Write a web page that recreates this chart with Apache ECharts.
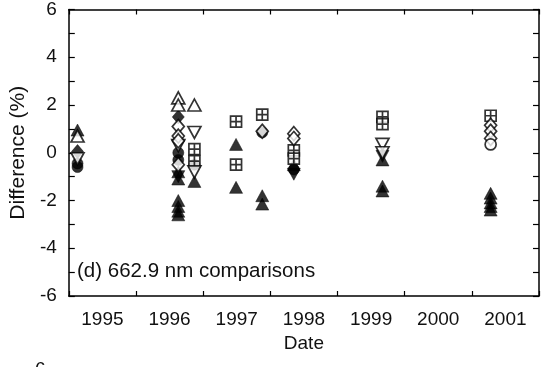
<!DOCTYPE html>
<html>
<head>
<meta charset="utf-8">
<script src="https://cdn.jsdelivr.net/npm/echarts@6/dist/echarts.min.js"></script>
<style>
  html, body { margin: 0; padding: 0; background: #fff; }
  #chart { width: 547px; height: 367px; }
</style>
</head>
<body>
<div id="chart"></div>
<script>
// data: [date (decimal year), difference %]
const yearLabels = ['1995', '1996', '1997', '1998', '1999', '2000', '2001']
const openUp = [[1995.13, 0.7], [1996.63, 2.3], [1996.63, 2.0], [1996.87, 2.0]]
const filledUp = [
  [1995.13, 0.95], [1996.63, -0.8], [1996.63, -1.1], [1996.63, -2.0], [1996.63, -2.25],
  [1996.63, -2.45], [1996.63, -2.6], [1996.87, -1.2], [1997.49, 0.35], [1997.49, -1.45],
  [1997.88, -1.8], [1997.88, -2.15], [1998.35, -0.5], [1999.67, -0.3], [1999.67, -1.4],
  [1999.67, -1.6], [2001.28, -1.7], [2001.28, -1.9], [2001.28, -2.1], [2001.28, -2.25], [2001.28, -2.4]
]
const openDown = [[1995.13, -0.25], [1996.63, 0.3], [1996.87, 0.85], [1996.87, -0.8], [1999.67, 0.35], [1999.67, 0.0]]
const filledDown = [[1996.63, -1.0], [1998.35, -0.9], [1999.67, -0.15]]
const openDiamond = [
  [1996.63, 1.1], [1996.63, 0.7], [1996.63, 0.5], [1996.63, -0.5], [1997.88, 0.9],
  [1998.35, 0.8], [1998.35, 0.6], [2001.28, 1.15], [2001.28, 0.9], [2001.28, 0.6]
]
const filledDiamond = [[1995.13, 0.05], [1996.63, 1.5]]
const openCircle = [[2001.28, 0.35]]
const filledCircle = [
  [1995.13, -0.45], [1995.13, -0.6], [1996.63, 0.0], [1996.63, -0.3],
  [1997.88, 0.85], [1998.35, -0.7], [1996.87, -0.5]
]
const boxPlus = [
  [1996.87, 0.15], [1996.87, -0.35], [1997.49, 1.3], [1997.49, -0.5], [1997.88, 1.6],
  [1998.35, 0.1], [1998.35, -0.25], [1999.67, 1.5], [1999.67, 1.2], [2001.28, 1.55]
]

const font = '"Liberation Sans", Arial, sans-serif'
const chart = echarts.init(document.getElementById('chart'), null, { renderer: 'canvas' })

// helper for one scatter series
function mk (data, symbol, filled, size, rotate) {
  return {
    type: 'scatter',
    xAxisIndex: 0,
    yAxisIndex: 0,
    data: data,
    symbol: symbol,
    symbolSize: size,
    symbolRotate: rotate || 0,
    itemStyle: filled
      ? { color: '#000', borderColor: '#000', borderWidth: 0.6 }
      : { color: '#fff', borderColor: '#000', borderWidth: 1.7 },
    emphasis: { disabled: true },
    silent: true
  }
}

const boxPath = 'path://M0,0L10,0L10,10L0,10Z M5,0L5,10 M0,5L10,5'

const frameLine = { show: true, onZero: false, lineStyle: { color: '#000', width: 1.5 } }
const tickStyle = { color: '#000', width: 1.2 }

const option = {
  animation: false,
  backgroundColor: '#fff',
  grid: { left: 61, right: 8, top: 6, bottom: 71 },
  xAxis: [
    {
      type: 'value', min: 1995, max: 2002, interval: 1, position: 'bottom',
      axisLine: frameLine,
      axisTick: { show: true, inside: true, length: 5, lineStyle: tickStyle },
      axisLabel: { show: false },
      splitLine: { show: false }
    },
    {
      type: 'value', min: 1995, max: 2002, interval: 1, position: 'top',
      axisLine: frameLine,
      axisTick: { show: true, inside: true, length: 5, lineStyle: tickStyle },
      axisLabel: { show: false },
      splitLine: { show: false }
    },
    {
      // label axis: half-year steps so the year names sit mid-year
      type: 'value', min: 0, max: 14, interval: 1, position: 'bottom',
      axisLine: { show: false, onZero: false },
      axisTick: { show: false },
      splitLine: { show: false },
      axisLabel: {
        margin: 14, fontSize: 19, color: '#111', fontFamily: font,
        formatter: v => (v % 2 === 1 ? yearLabels[(v - 1) / 2] : '')
      },
      name: 'Date',
      nameLocation: 'middle',
      nameGap: 38,
      nameTextStyle: { fontSize: 19, color: '#111', fontFamily: font }
    }
  ],
  yAxis: [
    {
      type: 'value', min: -6, max: 6, interval: 1, position: 'left',
      axisLine: frameLine,
      axisTick: { show: true, inside: true, length: 6, lineStyle: tickStyle },
      splitLine: { show: false },
      axisLabel: {
        margin: 12, fontSize: 19, color: '#111', fontFamily: font,
        formatter: v => (v % 2 === 0 ? String(v) : '')
      },
      name: 'Difference (%)',
      nameLocation: 'middle',
      nameGap: 33,
      nameRotate: 90,
      nameTextStyle: { fontSize: 21, color: '#111', fontFamily: font }
    },
    {
      type: 'value', min: -6, max: 6, interval: 1, position: 'right',
      axisLine: frameLine,
      axisTick: { show: true, inside: true, length: 6, lineStyle: tickStyle },
      splitLine: { show: false },
      axisLabel: { show: false }
    }
  ],
  graphic: [
    {
      type: 'text', left: 77, top: 261,
      style: { text: '(d) 662.9 nm comparisons', font: '20.5px ' + font, fill: '#111' }
    },
    {
      // top of the next panel's "6" peeking in at the bottom edge
      type: 'text', left: 35, top: 360,
      style: { text: '6', font: '19px ' + font, fill: '#111' }
    }
  ],
  series: [
    mk(filledUp, 'triangle', true, [13, 12]),
    mk(filledDown, 'triangle', true, [13, 12], 180),
    mk(filledDiamond, 'diamond', true, [12, 14]),
    mk(filledCircle, 'circle', true, 11),
    mk(boxPlus, boxPath, false, [11, 11]),
    mk(openUp, 'triangle', false, [13, 12]),
    mk(openDown, 'triangle', false, [13, 12], 180),
    mk(openDiamond, 'diamond', false, [12, 14]),
    mk(openCircle, 'circle', false, 11)
  ]
}

chart.setOption(option)
</script>
</body>
</html>
